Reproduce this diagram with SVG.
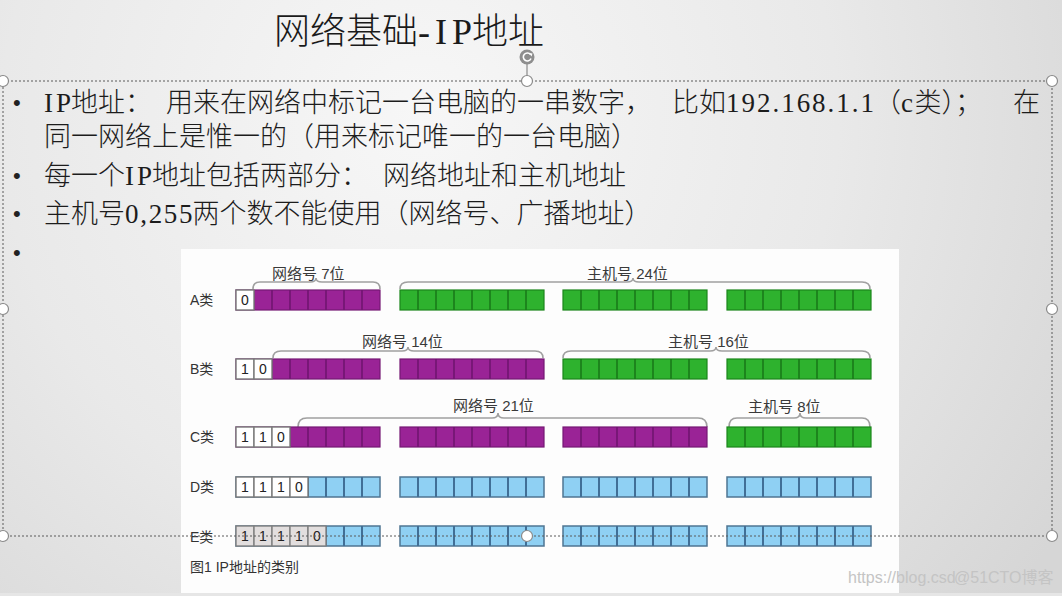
<svg xmlns="http://www.w3.org/2000/svg" xmlns:xlink="http://www.w3.org/1999/xlink" width="1062" height="596" viewBox="0 0 1062 596">
<defs>
<radialGradient id="bg" gradientUnits="userSpaceOnUse" cx="420" cy="120" r="760">
<stop offset="0" stop-color="#f7f7f7"/>
<stop offset="0.55" stop-color="#e9e9e9"/>
<stop offset="1" stop-color="#d6d6d6"/>
</radialGradient>
<style>
.tx{font-family:"Liberation Serif","Noto Sans CJK SC",serif;font-size:27px;font-weight:300;fill:#1c1c1c}
.ti{font-family:"Liberation Serif","Noto Sans CJK SC",serif;font-size:36px;font-weight:300;fill:#1a1a1a}
.bu{font-family:"Liberation Sans",sans-serif;font-size:22px;fill:#222}
.lb{font-family:"Liberation Sans","Noto Sans CJK SC",sans-serif;font-size:15px;fill:#3a3a3a}
.rl{font-family:"Liberation Sans","Noto Sans CJK SC",sans-serif;font-size:14px;fill:#333}
.bit{font-family:"Liberation Sans",sans-serif;font-size:14px;fill:#222;text-anchor:middle}
.cap{font-family:"Liberation Sans","Noto Sans CJK SC",sans-serif;font-size:14px;fill:#333}
.wm{font-family:"Liberation Sans","Noto Sans CJK SC",sans-serif;font-size:16px;fill:#c4c4c4}
.p{fill:#9a2396;stroke:#761874;stroke-width:1.2}
.pd{stroke:#701670;stroke-width:1.6;fill:none}
.g{fill:#2eb22e;stroke:#1b861b;stroke-width:1.2}
.gd{stroke:#1a7a1a;stroke-width:1.6;fill:none}
.b{fill:#8fd0f3;stroke:#4f7592;stroke-width:1.5}
.bd{stroke:#416f96;stroke-width:2;fill:none}
.wc{fill:#ffffff;stroke:#7a7a7a;stroke-width:1.4}
.we{fill:#e2dede;stroke:#808080;stroke-width:1.4}
.br{fill:none;stroke:#a0a0a0;stroke-width:1.6}
.sel{fill:none;stroke:#5a5a5a;stroke-width:1;stroke-dasharray:2 2}
.h{fill:#ffffff;stroke:#8a8a8a;stroke-width:1.2}
</style>
<g id="gp"><rect class="p" width="144" height="20"/><path class="pd" d="M18 0v20M36 0v20M54 0v20M72 0v20M90 0v20M108 0v20M126 0v20"/></g>
<g id="gg"><rect class="g" width="144" height="20"/><path class="gd" d="M18 0v20M36 0v20M54 0v20M72 0v20M90 0v20M108 0v20M126 0v20"/></g>
<g id="gb"><rect class="b" width="144" height="20"/><path class="bd" d="M18 0v20M36 0v20M54 0v20M72 0v20M90 0v20M108 0v20M126 0v20"/></g>
<rect id="w" class="wc" width="18" height="20"/>
<rect id="we" class="we" width="18" height="20"/>
</defs>

<rect width="1062" height="596" fill="url(#bg)"/>
<rect x="0" y="593" width="1062" height="3" fill="#e6e6e6"/>

<g id="title">
<text class="ti" x="274" y="44">网络基础</text>
<text class="ti" x="418" y="44" textLength="54" lengthAdjust="spacing">-IP</text>
<text class="ti" x="472" y="44">地址</text>
</g>

<g id="bullets">
<text class="bu" x="13" y="110">•</text>
<text class="bu" x="13" y="183">•</text>
<text class="bu" x="13" y="221">•</text>
<text class="bu" x="13" y="260">•</text>
<text class="tx" x="44" y="112" textLength="27" lengthAdjust="spacing">IP</text>
<text class="tx" x="71" y="112">地址：</text>
<text class="tx" x="166" y="112">用来在网络中标记一台电脑的一串数字，</text>
<text class="tx" x="672" y="112">比如</text>
<text class="tx" x="726" y="112" textLength="148" lengthAdjust="spacing">192.168.1.1</text>
<text class="tx" x="874" y="112">（</text>
<text class="tx" x="901" y="112" textLength="13.5" lengthAdjust="spacing">c</text>
<text class="tx" x="914.5" y="112">类）；</text>
<text class="tx" x="1013" y="112">在</text>
<text class="tx" x="44" y="146">同一网络上是惟一的（用来标记唯一的一台电脑）</text>
<text class="tx" x="44" y="185">每一个</text>
<text class="tx" x="125" y="185" textLength="27" lengthAdjust="spacing">IP</text>
<text class="tx" x="152" y="185">地址包括两部分：</text>
<text class="tx" x="383" y="185">网络地址和主机地址</text>
<text class="tx" x="44" y="223">主机号</text>
<text class="tx" x="125" y="223" textLength="67.5" lengthAdjust="spacing">0,255</text>
<text class="tx" x="192.5" y="223">两个数不能使用（网络号、广播地址）</text>
</g>

<g id="figure">
<rect x="181" y="249" width="718" height="344" fill="#fdfdfd"/>
<path class="br" d="M253 289Q253 282 260 282L310 282Q316 282 316 278Q316 282 322 282L373 282Q380 282 380 289"/>
<path class="br" d="M400 289Q400 282 408 282L627 282Q633 282 633 278Q633 282 639 282L862 282Q870 282 870 289"/>
<path class="br" d="M273 358Q273 351 281 351L402 351Q408 351 408 347Q408 351 414 351L535 351Q543 351 543 358"/>
<path class="br" d="M563 358Q563 351 571 351L710 351Q716 351 716 347Q716 351 722 351L862 351Q870 351 870 358"/>
<path class="br" d="M298 427Q298 418 307 418L492 418Q498 418 498 413Q498 418 504 418L698 418Q707 418 707 427"/>
<path class="br" d="M729 427Q729 418 737 418L794 418Q800 418 800 413Q800 418 806 418L862 418Q870 418 870 427"/>
<text class="lb" x="272" y="279">网络号 7位</text>
<text class="lb" x="587" y="279">主机号 24位</text>
<text class="lb" x="362" y="347">网络号 14位</text>
<text class="lb" x="668" y="347">主机号 16位</text>
<text class="lb" x="453" y="411">网络号 21位</text>
<text class="lb" x="748" y="412">主机号 8位</text>

<g id="rowA">
<text class="rl" x="190" y="305">A类</text>
<use xlink:href="#gp" x="236" y="290"/>
<use xlink:href="#w" x="236" y="290"/>
<text class="bit" x="245" y="305">0</text>
<use xlink:href="#gg" x="400" y="290"/>
<use xlink:href="#gg" x="563" y="290"/>
<use xlink:href="#gg" x="727" y="290"/>
</g>
<g id="rowB">
<text class="rl" x="190" y="374">B类</text>
<use xlink:href="#gp" x="236" y="359"/>
<use xlink:href="#w" x="236" y="359"/>
<use xlink:href="#w" x="254" y="359"/>
<text class="bit" x="245" y="374">1</text>
<text class="bit" x="263" y="374">0</text>
<use xlink:href="#gp" x="400" y="359"/>
<use xlink:href="#gg" x="563" y="359"/>
<use xlink:href="#gg" x="727" y="359"/>
</g>
<g id="rowC">
<text class="rl" x="190" y="442">C类</text>
<use xlink:href="#gp" x="236" y="427"/>
<use xlink:href="#w" x="236" y="427"/>
<use xlink:href="#w" x="254" y="427"/>
<use xlink:href="#w" x="272" y="427"/>
<text class="bit" x="245" y="442">1</text>
<text class="bit" x="263" y="442">1</text>
<text class="bit" x="281" y="442">0</text>
<use xlink:href="#gp" x="400" y="427"/>
<use xlink:href="#gp" x="563" y="427"/>
<use xlink:href="#gg" x="727" y="427"/>
</g>
<g id="rowD">
<text class="rl" x="190" y="492">D类</text>
<use xlink:href="#gb" x="236" y="477"/>
<use xlink:href="#w" x="236" y="477"/>
<use xlink:href="#w" x="254" y="477"/>
<use xlink:href="#w" x="272" y="477"/>
<use xlink:href="#w" x="290" y="477"/>
<text class="bit" x="245" y="492">1</text>
<text class="bit" x="263" y="492">1</text>
<text class="bit" x="281" y="492">1</text>
<text class="bit" x="299" y="492">0</text>
<use xlink:href="#gb" x="400" y="477"/>
<use xlink:href="#gb" x="563" y="477"/>
<use xlink:href="#gb" x="727" y="477"/>
</g>
<g id="rowE">
<text class="rl" x="190" y="542">E类</text>
<use xlink:href="#gb" x="236" y="526"/>
<use xlink:href="#we" x="236" y="526"/>
<use xlink:href="#we" x="254" y="526"/>
<use xlink:href="#we" x="272" y="526"/>
<use xlink:href="#we" x="290" y="526"/>
<use xlink:href="#we" x="308" y="526"/>
<text class="bit" x="245" y="541">1</text>
<text class="bit" x="263" y="541">1</text>
<text class="bit" x="281" y="541">1</text>
<text class="bit" x="299" y="541">1</text>
<text class="bit" x="317" y="541">0</text>
<use xlink:href="#gb" x="400" y="526"/>
<use xlink:href="#gb" x="563" y="526"/>
<use xlink:href="#gb" x="727" y="526"/>
</g>
<text class="cap" x="190" y="572">图1  IP地址的类别</text>
</g>

<g id="selection">
<rect class="sel" x="3" y="81" width="1049" height="455"/>
<line x1="527" y1="64" x2="527" y2="76" stroke="#8a8a8a" stroke-width="1.2"/>
<circle cx="527" cy="57" r="7.5" fill="#8e8e8e"/>
<path d="M530.5 54.5A4 4 0 1 0 531 58.5" fill="none" stroke="#ffffff" stroke-width="1.6"/>
<path d="M529 53L532.5 53.5L531.5 56.5Z" fill="#ffffff"/>
<circle class="h" cx="3" cy="81" r="5.5"/>
<circle class="h" cx="527" cy="81" r="5.5"/>
<circle class="h" cx="1052" cy="81" r="5.5"/>
<circle class="h" cx="3" cy="309" r="5.5"/>
<circle class="h" cx="1052" cy="309" r="5.5"/>
<circle class="h" cx="3" cy="536" r="5.5"/>
<circle class="h" cx="527" cy="536" r="5.5"/>
<circle class="h" cx="1052" cy="536" r="5.5"/>
</g>

<g id="watermark">
<text class="wm" x="848" y="583">https://blog.csd</text>
<text class="wm" x="954" y="583" fill="#b8b8b8">@51CTO博客</text>
</g>
</svg>
